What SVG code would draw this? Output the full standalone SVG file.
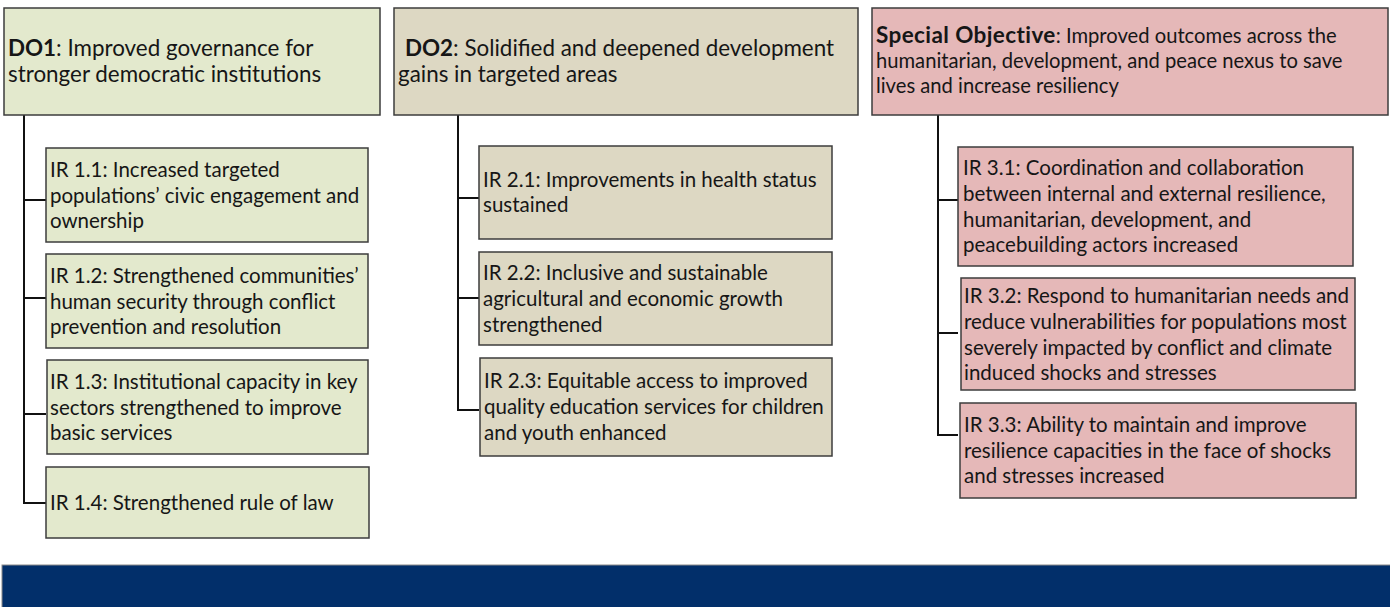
<svg xmlns="http://www.w3.org/2000/svg" width="1390" height="607" viewBox="0 0 1390 607">
<style>
text{font-family:Lato,"Liberation Sans",sans-serif;font-size:20.5px;fill:#161616}
.h{font-size:22.4px}
.s{font-size:20.2px}
.sb{font-weight:bold;font-size:22.5px;letter-spacing:0.4px}
.g{fill:#e3e9cd;stroke:#3c3c3c;stroke-width:1.5}
.t{fill:#ddd8c3;stroke:#3c3c3c;stroke-width:1.5}
.p{fill:#e5b8b8;stroke:#3c3c3c;stroke-width:1.5}
.c{fill:none;stroke:#111;stroke-width:2}
</style>
<rect width="1390" height="607" fill="#fff"/>
<g id="connectors">
<path class="c" d="M24 115V503H46M24 200H46M24 298H46M24 414H46"/>
<path class="c" d="M458 115V410H479M458 198H479M458 298H479"/>
<path class="c" d="M938 115V435H958M938 200H958M938 333H958"/>
</g>
<g id="do1">
<rect class="g" x="4" y="8" width="376" height="107"/>
<text class="h" x="8" y="56"><tspan font-weight="bold">DO1</tspan>: Improved governance for</text>
<text class="h" x="8" y="82">stronger democratic institutions</text>
</g>
<g id="do2">
<rect class="t" x="394" y="8" width="464" height="107"/>
<text class="h" x="405" y="56"><tspan font-weight="bold">DO2</tspan>: Solidified and deepened development</text>
<text class="h" x="398" y="82">gains in targeted areas</text>
</g>
<g id="so">
<rect class="p" x="872" y="8" width="516" height="107"/>
<text class="s" x="876" y="43"><tspan class="sb">Special Objective</tspan>: Improved outcomes across the</text>
<text class="s" x="876" y="68">humanitarian, development, and peace nexus to save</text>
<text class="s" x="876" y="93">lives and increase resiliency</text>
</g>
<g id="ir11">
<rect class="g" x="46" y="148" width="322" height="94"/>
<text x="50" y="177">IR 1.1: Increased targeted</text>
<text x="50" y="203">populations’ civic engagement and</text>
<text x="50" y="228">ownership</text>
</g>
<g id="ir12">
<rect class="g" x="46" y="254" width="322" height="94"/>
<text x="50" y="283">IR 1.2: Strengthened communities’</text>
<text x="50" y="309">human security through conflict</text>
<text x="50" y="334">prevention and resolution</text>
</g>
<g id="ir13">
<rect class="g" x="47" y="360" width="321" height="94"/>
<text x="50" y="389">IR 1.3: Institutional capacity in key</text>
<text x="50" y="415">sectors strengthened to improve</text>
<text x="50" y="440">basic services</text>
</g>
<g id="ir14">
<rect class="g" x="46" y="467" width="323" height="71"/>
<text x="50" y="510">IR 1.4: Strengthened rule of law</text>
</g>
<g id="ir21">
<rect class="t" x="479" y="146" width="353" height="93"/>
<text x="483" y="187">IR 2.1: Improvements in health status</text>
<text x="483" y="212">sustained</text>
</g>
<g id="ir22">
<rect class="t" x="479" y="252" width="353" height="93"/>
<text x="483" y="280">IR 2.2: Inclusive and sustainable</text>
<text x="483" y="306">agricultural and economic growth</text>
<text x="483" y="332">strengthened</text>
</g>
<g id="ir23">
<rect class="t" x="480" y="358" width="352" height="98"/>
<text x="484" y="388">IR 2.3: Equitable access to improved</text>
<text x="484" y="414">quality education services for children</text>
<text x="484" y="440">and youth enhanced</text>
</g>
<g id="ir31">
<rect class="p" x="958" y="147" width="395" height="119"/>
<text x="963" y="175">IR 3.1: Coordination and collaboration</text>
<text x="963" y="201">between internal and external resilience,</text>
<text x="963" y="227">humanitarian, development, and</text>
<text x="963" y="252">peacebuilding actors increased</text>
</g>
<g id="ir32">
<rect class="p" x="961" y="278" width="394" height="112"/>
<text x="964" y="303">IR 3.2: Respond to humanitarian needs and</text>
<text x="964" y="329">reduce vulnerabilities for populations most</text>
<text x="964" y="355">severely impacted by conflict and climate</text>
<text x="964" y="380">induced shocks and stresses</text>
</g>
<g id="ir33">
<rect class="p" x="960" y="403" width="396" height="95"/>
<text x="964" y="432">IR 3.3: Ability to maintain and improve</text>
<text x="964" y="458">resilience capacities in the face of shocks</text>
<text x="964" y="483">and stresses increased</text>
</g>
<g id="band">
<rect x="2" y="565" width="1390" height="44" fill="#022f6a" stroke="#8a8a8a" stroke-width="1"/>
</g>
</svg>
